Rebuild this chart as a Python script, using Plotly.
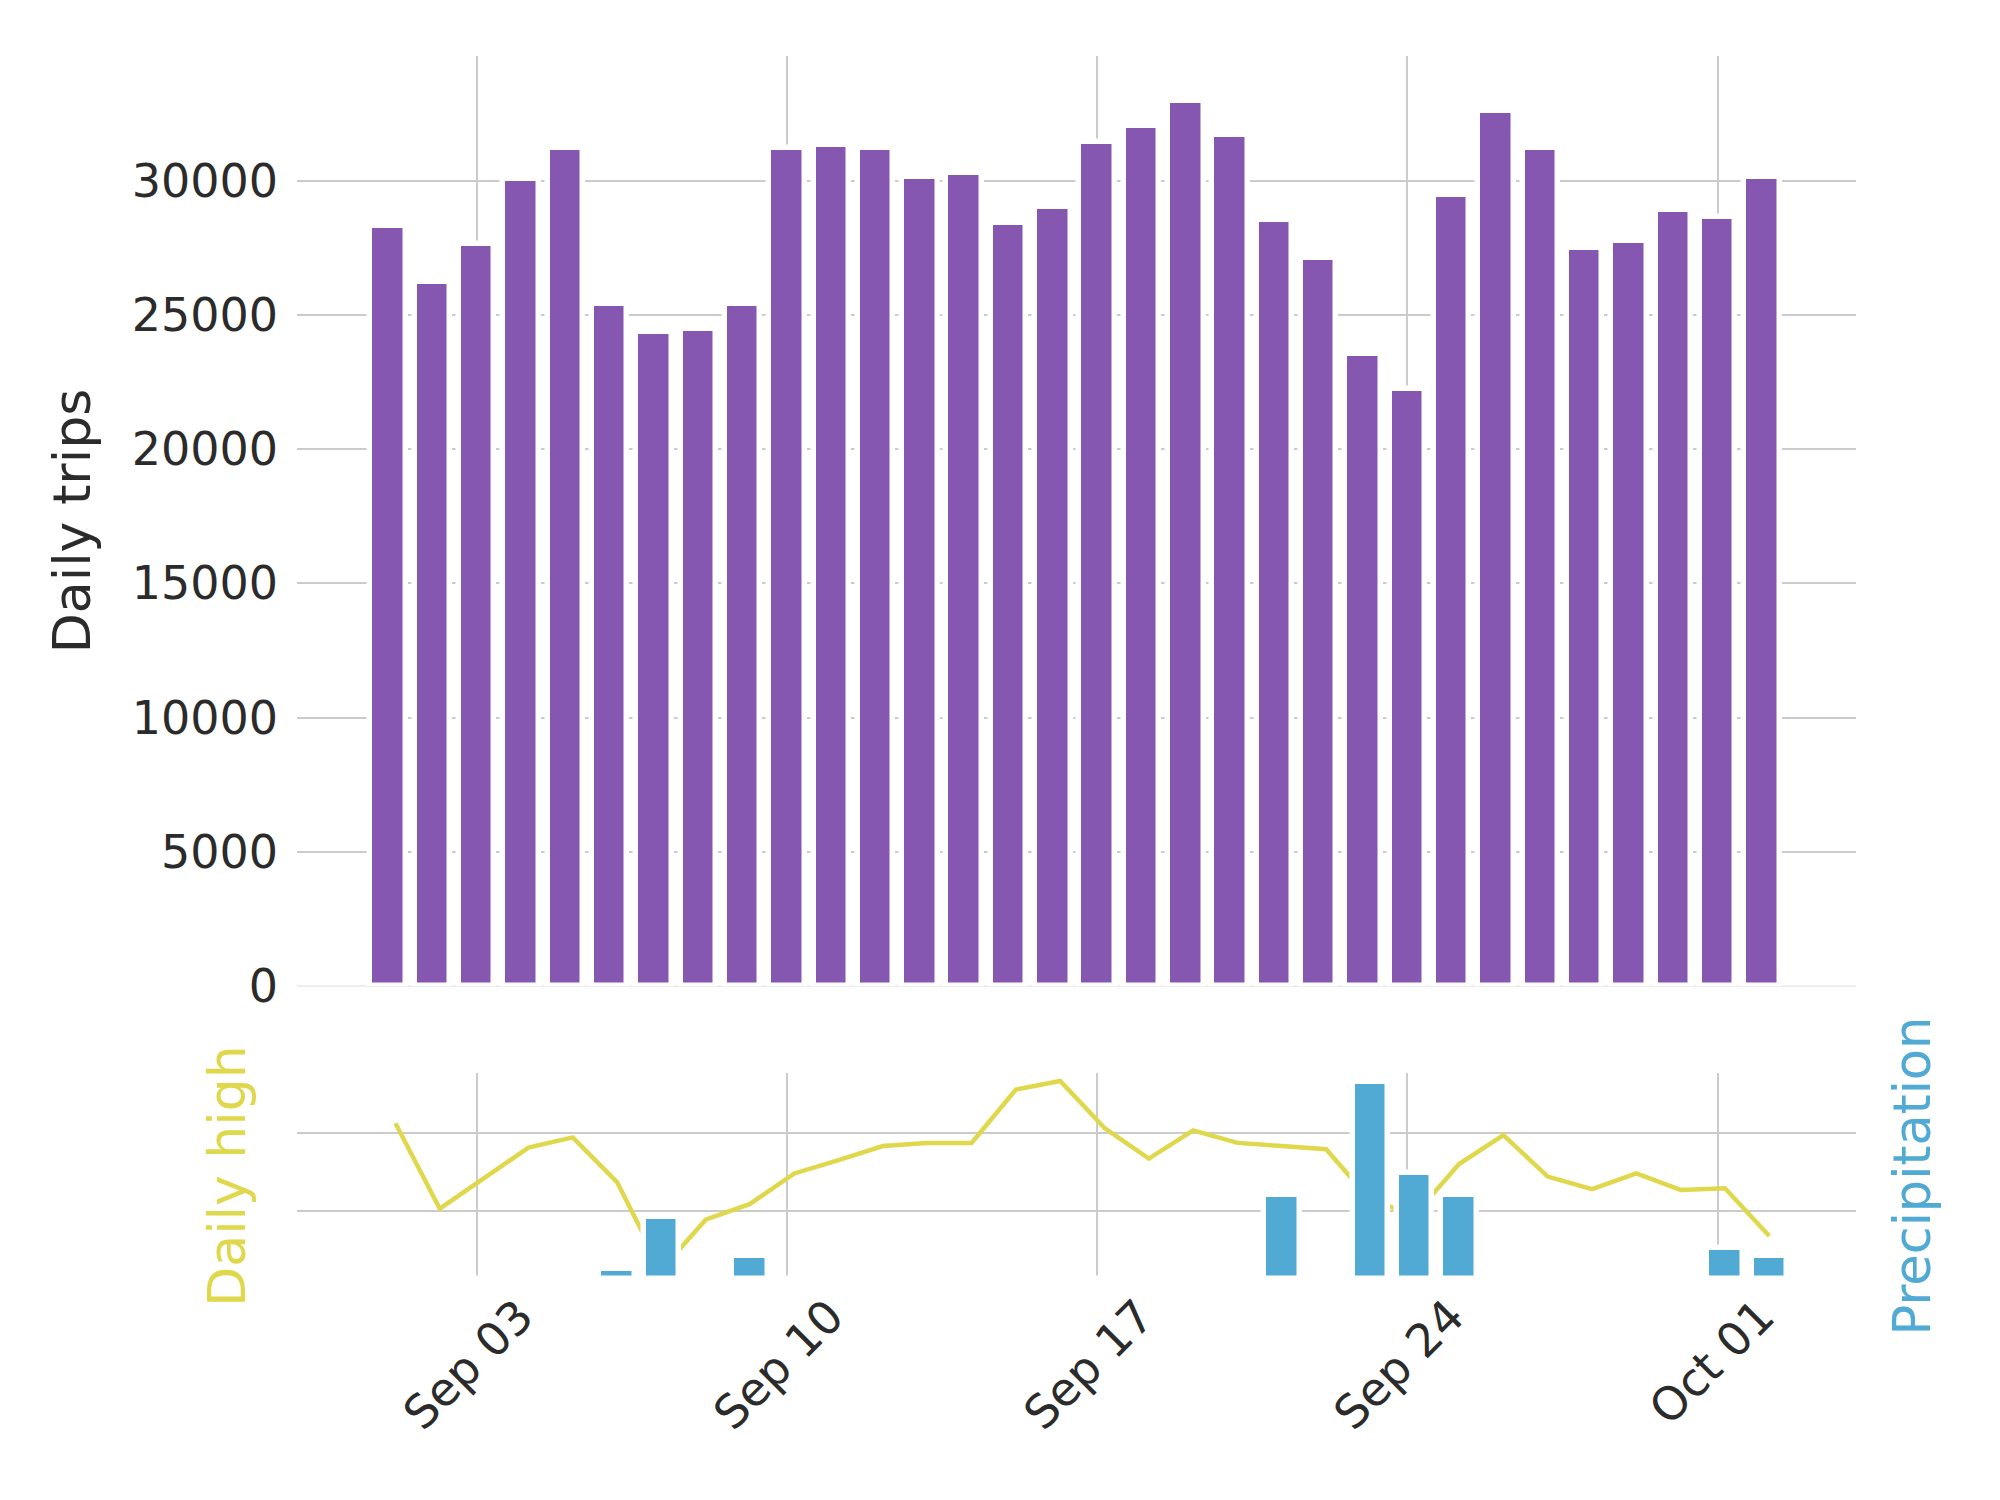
import pandas as pd
import plotly.graph_objects as go
from plotly.subplots import make_subplots

# days shown (bars sit on midnight, weather readings are stamped 04:00)
dates = pd.date_range("2013-09-01", "2013-10-02", freq="D")
weather_times = dates + pd.Timedelta(hours=4)
week_ticks = ["2013-09-03", "2013-09-10", "2013-09-17", "2013-09-24", "2013-10-01"]

daily_trips = [28330, 26220, 27640, 30060, 31230, 25410, 24370, 24460,
               25410, 31230, 31350, 31230, 30160, 30300, 28430, 29020,
               31440, 32040, 32960, 31700, 28540, 27140, 23530, 22250,
               29470, 32610, 31230, 27480, 27740, 28900, 28660, 30160]

daily_high = [81.2, 70.3, 74.2, 78.1, 79.4, 73.7, 62.5, 68.9,
              70.9, 74.8, 76.5, 78.3, 78.7, 78.7, 85.5, 86.6,
              80.6, 76.7, 80.3, 78.7, 78.3, 77.9, 71.4, 69.5,
              76.0, 79.7, 74.4, 72.8, 74.8, 72.7, 72.9, 66.8]

precipitation = [0, 0, 0, 0, 0, 0.05, 0.30, 0,
                 0.11, 0, 0, 0, 0, 0, 0, 0,
                 0, 0, 0, 0, 0.41, 0, 0.955, 0.515,
                 0.41, 0, 0, 0, 0, 0, 0.15, 0.11]

PURPLE = "#8557b0"
YELLOW = "#e0d84c"
BLUE = "#50aad4"
GRID = "#cbcbcb"
FONT = "DejaVu Sans"
DAY_MS = 86400000

fig = make_subplots(rows=2, cols=1, shared_xaxes=True,
                    specs=[[{}], [{"secondary_y": True}]])

fig.add_trace(go.Bar(x=dates, y=daily_trips, width=0.8 * DAY_MS,
                     marker=dict(color=PURPLE, line=dict(color="white", width=5.5)),
                     showlegend=False), row=1, col=1)

fig.add_trace(go.Scatter(x=weather_times, y=daily_high, mode="lines",
                         line=dict(color=YELLOW, width=4.5), showlegend=False),
              row=2, col=1, secondary_y=False)

fig.add_trace(go.Bar(x=weather_times, y=precipitation, width=0.8 * DAY_MS,
                     marker=dict(color=BLUE, line=dict(color="white", width=5.5)),
                     showlegend=False),
              row=2, col=1, secondary_y=True)

x_range = ["2013-08-29 22:41", "2013-10-04 02:57"]
common_x = dict(type="date", range=x_range, tickvals=week_ticks,
                showgrid=True, gridcolor=GRID, gridwidth=2,
                ticks="", showline=False, zeroline=False)

fig.update_layout(
    width=2000, height=1500,
    margin=dict(l=289, r=152, t=48, b=229),
    plot_bgcolor="white", paper_bgcolor="white",
    font=dict(family=FONT, size=46, color="#2b2b2b"),
    bargap=0,
    xaxis=dict(common_x, domain=[0, 1], showticklabels=False),
    xaxis2=dict(common_x, domain=[0, 1], tickformat="%b %d", tickangle=-45,
                ticklabelshift=43),
    yaxis=dict(domain=[0.2396, 1], range=[0, 34650],
               tickvals=[0, 5000, 10000, 15000, 20000, 25000, 30000],
               tickformat="d", showgrid=True, gridcolor=GRID, gridwidth=2,
               zeroline=True, zerolinecolor="#eeeeee", zerolinewidth=2,
               ticks="", showline=False, ticklabelstandoff=18,
               title=dict(text="Daily trips", font=dict(size=52), standoff=24)),
    yaxis2=dict(domain=[0, 0.1684], range=[61.32, 87.62], tickvals=[70, 80],
                showticklabels=False, showgrid=True, gridcolor=GRID, gridwidth=2,
                zeroline=False, ticks="", showline=False,
                title=dict(text="Daily high", font=dict(size=52, color=YELLOW),
                           standoff=33)),
    yaxis3=dict(range=[0, 1.0], showticklabels=False, showgrid=False,
                zeroline=False, ticks="", showline=False,
                title=dict(text="Precipitation", font=dict(size=51, color=BLUE),
                           standoff=38)),
)

fig.write_html("out.html")
